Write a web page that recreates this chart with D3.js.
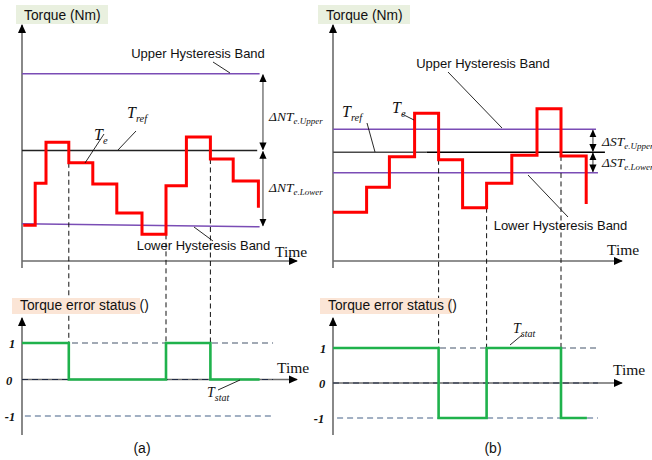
<!DOCTYPE html>
<html><head><meta charset="utf-8">
<script src="https://cdn.jsdelivr.net/npm/d3@7"></script>
<style>body{margin:0;background:#fff}svg{display:block}</style>
</head><body>
<svg id="c" width="652" height="460"></svg>
<script>
// ---------- DATA ----------
// Panel (a): step edges (time) and torque values of each step, final drop value
const edgesA = [0.05, 0.55, 1.0, 1.95, 2.95, 3.95, 5.0, 6.0, 6.85, 7.85, 8.8, 9.85];
const teA    = [-0.98, -0.43, 0.11, -0.16, -0.44, -0.82, -1.10, -0.46, 0.18, -0.11, -0.40];
const teAEnd = -0.75;
const trefA = 0, upperA = 1.01, lowerA = [-0.96, -1.0];
const switchA = [1.95, 6.0, 7.85];
const statTimesA = [0, 1.95, 6.0, 7.85, 9.9];
const statValsA  = [1, 0, 1, 0, 0];

// Panel (b)
const edgesB = [0, 1.4, 2.35, 3.4, 4.4, 5.4, 6.4, 7.45, 8.5, 9.5, 10.55];
const teB    = [-0.79, -0.46, -0.06, 0.51, -0.10, -0.73, -0.41, -0.04, 0.57, -0.05];
const teBEnd = -0.68;
const trefB = 0, upperB = 0.30, lowerB = [-0.27, -0.27];
const switchB = [4.4, 6.4, 9.5];
const statTimesB = [0, 4.4, 6.4, 9.5, 10.58];
const statValsB  = [1, -1, 1, -1, -1];

const statusTicks = [1, 0, -1];
const statusTickLabels = ["1", "0", "-1"];

// ---------- DRAW ----------
const svg = d3.select("#c");
const defs = svg.append("defs");
defs.append("marker").attr("id","ah").attr("viewBox","0 0 10 10").attr("refX",9).attr("refY",5)
  .attr("markerWidth",9).attr("markerHeight",9).attr("markerUnits","userSpaceOnUse").attr("orient","auto-start-reverse")
  .append("path").attr("d","M0,0.5 L10,5 L0,9.5 Z").attr("fill","#000");
defs.append("marker").attr("id","ahs").attr("viewBox","0 0 10 10").attr("refX",9).attr("refY",5)
  .attr("markerWidth",8).attr("markerHeight",8).attr("markerUnits","userSpaceOnUse").attr("orient","auto-start-reverse")
  .append("path").attr("d","M0,0.5 L10,5 L0,9.5 Z").attr("fill","#000");

const SANS = "'Liberation Sans', Arial, sans-serif";
const SERIF = "'Liberation Serif', 'Times New Roman', serif";

function line(x1,y1,x2,y2,st,w,dash){
  const l = svg.append("line").attr("x1",x1).attr("y1",y1).attr("x2",x2).attr("y2",y2)
    .attr("stroke",st).attr("stroke-width",w);
  if(dash) l.attr("stroke-dasharray",dash);
  return l;
}
function sansText(x,y,t,anchor,size){
  svg.append("text").attr("x",x).attr("y",y).attr("text-anchor",anchor||"start")
    .attr("font-family",SANS).attr("font-size",size||12.5).attr("fill","#111").text(t);
}
function mathLabel(x,y,main,sub,size,subsize){
  const t = svg.append("text").attr("x",x).attr("y",y).attr("font-family",SERIF)
    .attr("font-style","italic").attr("font-size",size).attr("fill","#111");
  t.append("tspan").text(main);
  t.append("tspan").attr("font-size",subsize).attr("dy",size*0.25).text(sub);
}
function boxLabel(x,y,w,h,fill,t){
  svg.append("rect").attr("x",x).attr("y",y).attr("width",w).attr("height",h).attr("fill",fill);
  sansText(x+8,y+h-4,t,"start",13.8);
}

function panel(cfg){
  const x = d3.scaleLinear().domain([0, 1]).range([cfg.x0, cfg.x0 + 24]);
  const y = d3.scaleLinear().domain(cfg.yDom).range([261, 25]);
  const ys = d3.scaleLinear().domain([-1, 1]).range(cfg.sRange);
  const X0 = cfg.x0;

  // top label box
  boxLabel(cfg.boxX, 5, 92, 19, "#e9f0df", "Torque (Nm)");
  // axes (upper)
  line(X0, 268, X0, 25, "#6b6b6b", 1.6).attr("marker-end","url(#ah)");
  line(X0, 261, cfg.axisEnd, 261, "#6b6b6b", 1.6).attr("marker-end","url(#ah)");
  svg.append("text").attr("x",cfg.timeX).attr("y",cfg.timeY).attr("font-family",SERIF)
    .attr("font-size",15.5).attr("fill","#111").text("Time");

  // bands
  line(x(0), y(cfg.upper), x(cfg.upperEnd), y(cfg.upper), "#7a4db5", 1.5);
  line(x(0), y(cfg.lower[0]), x(cfg.lowerEnd), y(cfg.lower[1]), "#7a4db5", 1.5);
  // Tref
  if(cfg.trefSplit){
    line(x(0), y(cfg.tref), x(cfg.trefSplit), y(cfg.tref), "#4a4a4a", 1.5);
    line(x(cfg.trefSplit), y(cfg.tref), x(cfg.trefEnd), y(cfg.tref), "#000", 1.5);
  } else line(x(0), y(cfg.tref), x(cfg.trefEnd), y(cfg.tref), "#222", 1.5);

  // dashed verticals
  cfg.switches.forEach(t=>{
    const i = cfg.edges.indexOf(t);
    const vLow = Math.min(cfg.te[i-1], cfg.te[i]);
    const si = cfg.statT.indexOf(t);
    const sHigh = Math.max(cfg.statV[si-1], cfg.statV[si]);
    line(x(t), y(vLow), x(t), ys(sHigh), "#111", 1, "5,3.5");
  });

  // Te red step
  const pts = cfg.te.map((v,i)=>[cfg.edges[i], v]);
  pts.push([cfg.edges[cfg.edges.length-1], cfg.teEnd]);
  svg.append("path").attr("d", d3.line().x(d=>x(d[0])).y(d=>y(d[1])).curve(d3.curveStepAfter)(pts))
    .attr("fill","none").attr("stroke","#ff0000").attr("stroke-width",3).attr("stroke-linejoin","miter");

  // double arrows
  const ax = x(cfg.arrowT);
  line(ax, y(cfg.upper)+1, ax, y(cfg.tref)-1, "#666", 1.3).attr("marker-start","url(#ahs)").attr("marker-end","url(#ahs)");
  line(ax, y(cfg.tref)+1, ax, y(cfg.lower[1])-1, "#666", 1.3).attr("marker-start","url(#ahs)").attr("marker-end","url(#ahs)");
  mathLabel(cfg.dLabX, cfg.dLabY[0], cfg.dName, "e.Upper", 13.5, 9);
  mathLabel(cfg.dLabX, cfg.dLabY[1], cfg.dName, "e.Lower", 13.5, 9);

  // ---- status panel ----
  boxLabel(cfg.sBoxX, 298, cfg.sBoxW, 16, "#fbe5d6", "Torque error status ()");
  line(X0, 435, X0, 318, "#6b6b6b", 1.6).attr("marker-end","url(#ah)");
  line(X0, ys(0), cfg.axisEnd, ys(0), "#6b6b6b", 1.6).attr("marker-end","url(#ah)");
  line(X0, ys(0), x(cfg.sDashEnd), ys(0), "#1f2a44", 1.2, "6,4");
  line(x(cfg.s1Start), ys(1), x(cfg.sDashEnd), ys(1), "#44546a", 1.1, "6,4");
  line(x(cfg.sm1Start), ys(-1), x(cfg.sDashEnd), ys(-1), "#8497b0", 1.3, "6,4");
  svg.append("text").attr("x",cfg.sTimeX).attr("y",cfg.sTimeY).attr("font-family",SERIF)
    .attr("font-size",15.5).attr("fill","#111").text("Time");
  statusTicks.forEach((v,i)=>{
    svg.append("text").attr("x",cfg.tickX[i]).attr("y",ys(v)+cfg.tickDy).attr("text-anchor","middle")
      .attr("font-family",SERIF).attr("font-style","italic").attr("font-weight","bold")
      .attr("font-size",12.5).attr("fill","#111").text(statusTickLabels[i]);
  });
  const sp = cfg.statT.map((t,i)=>[t, cfg.statV[i]]);
  svg.append("path").attr("d", d3.line().x(d=>x(d[0])).y(d=>ys(d[1])).curve(d3.curveStepAfter)(sp))
    .attr("fill","none").attr("stroke","#1fb24c").attr("stroke-width",2.6);

  return {x,y,ys};
}

panel({x0:22, yDom:[-1.45,1.65], sRange:[416,343], boxX:16, axisEnd:297, timeX:275, timeY:257,
  upper:upperA, lower:lowerA, tref:trefA, upperEnd:9.9, lowerEnd:9.9, trefEnd:9.8,
  edges:edgesA, te:teA, teEnd:teAEnd, switches:switchA, statT:statTimesA, statV:statValsA,
  arrowT:10.04, dName:"ΔNT", dLabX:269, dLabY:[121,192],
  sBoxX:12, sBoxW:128, sDashEnd:10.46, s1Start:0, sm1Start:0.12, sTimeX:277, sTimeY:373,
  tickX:[12,9,10], tickDy:5});

panel({x0:333, yDom:[-1.43,1.67], sRange:[418,348], boxX:318, axisEnd:622, timeX:607, timeY:255,
  upper:upperB, lower:lowerB, tref:trefB, upperEnd:10.96, lowerEnd:11.04, trefEnd:11.33, trefSplit:3.9,
  edges:edgesB, te:teB, teEnd:teBEnd, switches:switchB, statT:statTimesB, statV:statValsB,
  arrowT:10.83, dName:"ΔST", dLabX:602, dLabY:[146,167],
  sBoxX:320, sBoxW:132, sDashEnd:11.04, s1Start:4.46, sm1Start:0.17, sTimeX:613, sTimeY:375,
  tickX:[323,322,319], tickDy:5});

// ---------- annotations ----------
sansText(198, 58, "Upper Hysteresis Band", "middle", 13);
line(213,62,230,73,"#111",0.9);
sansText(203.5, 250, "Lower Hysteresis Band", "middle", 13);
line(194,227,213,241,"#111",0.9);
mathLabel(127,118,"T","ref",16,10.5);
line(136,131,118,150,"#111",0.9);
mathLabel(94,140,"T","e",16,10.5);
line(104,134,85,163,"#111",0.9);
mathLabel(207,397,"T","stat",14,10);
line(218,390,240,380,"#111",0.9);

sansText(483, 68, "Upper Hysteresis Band", "middle", 13);
line(448,72,502,128,"#111",0.9);
sansText(560.5, 230, "Lower Hysteresis Band", "middle", 13);
line(528,175,568,217,"#111",0.9);
mathLabel(342,117,"T","ref",16,10.5);
line(367,123,375,152,"#111",0.9);
mathLabel(392,113,"T","e",16,10.5);
line(402,114,414,120,"#111",0.9);
mathLabel(513,333,"T","stat",14,10);
line(522,335,510,345,"#111",0.9);

sansText(142, 453, "(a)", "middle", 14);
sansText(493, 453, "(b)", "middle", 14);
</script>
</body></html>
